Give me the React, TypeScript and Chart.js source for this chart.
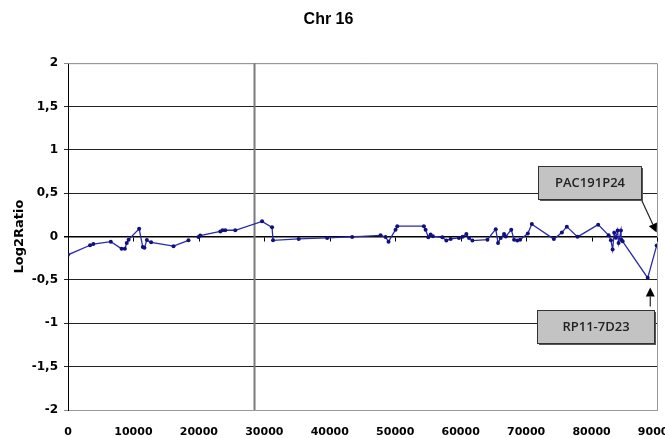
import React, { useEffect, useRef } from 'react';
import { Chart, registerables } from 'chart.js';

Chart.register(...registerables);

const chartTitle = 'Chr 16';
const yAxisTitle = 'Log2Ratio';

// Clone positions along chromosome 16 (units as in the source chart)
const positions: number[] = [
  0, 3370, 3870, 6540, 8190, 8690, 8980, 9260, 10870, 11430,
  11680, 12050, 12700, 16120, 18410, 19200, 19940, 20200, 23270, 23620,
  24030, 25560, 29650, 31180, 31330, 35250, 39600, 43420, 47760, 48520,
  48980, 50050, 50310, 54380, 54640, 55060, 55410, 55760, 57200, 57810,
  58470, 59740, 60300, 60870, 61270, 61790, 64090, 65360, 65710, 66120,
  66630, 66890, 67730, 68160, 68650, 69080, 70260, 70870, 74240, 75460,
  76220, 77860, 81010, 82610, 82960, 83220, 83460, 83720, 83980, 84130,
  84490, 84550, 84750, 88580, 89950,
];

const log2Ratios: (number | null)[] = [
  -0.21, -0.1, -0.086, -0.058, -0.14, -0.14, -0.073, -0.035, 0.09, -0.12,
  -0.13, -0.04, -0.066, -0.11, -0.043, null, -0.006, 0.012, 0.06, 0.073,
  0.073, 0.073, 0.176, 0.107, -0.043, -0.027, -0.015, -0.004, 0.015, -0.006,
  -0.058, 0.08, 0.12, 0.12, 0.08, -0.008, 0.023, 0.003, -0.008, -0.046,
  -0.027, -0.015, -0.003, 0.03, -0.015, -0.046, -0.035, 0.086, -0.073, -0.015,
  0.029, 0.0, 0.08, -0.035, -0.046, -0.035, 0.035, 0.144, -0.029, 0.046,
  0.115, -0.003, 0.138, 0.015, -0.043, -0.15, 0.043, -0.012, 0.069, -0.073,
  0.069, -0.035, -0.054, -0.476, -0.104,
];

const xTickValues = [0, 10000, 20000, 30000, 40000, 50000, 60000, 70000, 80000, 90000];
const yTickValues = [-2, -1.5, -1, -0.5, 0, 0.5, 1, 1.5, 2];
const centromerePosition = 28500;

const calloutLabels = ['PAC191P24', 'RP11-7D23'];
// anchors in data coordinates: box centre, arrow tail, arrow tip
const calloutBoxX = [79740, 80660];
const calloutBoxY = [0.62, -1.037];
const calloutTailX = [87550, 88970];
const calloutTailY = [0.437, -0.806];
const calloutTipX = [89950, 88970];
const calloutTipY = [0.046, -0.588];
const calloutBoxWidths = [103, 117];

const TICK_FONT = "'DejaVu Sans', sans-serif";

const decorPlugin = {
  id: 'decor',
  beforeDatasetsDraw(chart: any) {
    const { ctx, chartArea } = chart;
    const xs = chart.scales.x;
    const ys = chart.scales.y;
    ctx.save();
    ctx.strokeStyle = '#9a9a9a';
    ctx.lineWidth = 1;
    ctx.beginPath();
    ctx.moveTo(chartArea.left, chartArea.top + 0.5);
    ctx.lineTo(chartArea.right + 0.5, chartArea.top + 0.5);
    ctx.lineTo(chartArea.right + 0.5, chartArea.bottom);
    ctx.stroke();
    const cx = xs.getPixelForValue(centromerePosition);
    ctx.strokeStyle = '#7a7a7a';
    ctx.lineWidth = 2;
    ctx.beginPath();
    ctx.moveTo(cx, chartArea.top);
    ctx.lineTo(cx, chartArea.bottom);
    ctx.stroke();
    const y0 = Math.round(ys.getPixelForValue(0)) + 0.5;
    ctx.strokeStyle = '#000';
    ctx.lineWidth = 1;
    ctx.beginPath();
    for (const v of xTickValues) {
      if (v === 0) continue;
      const px = Math.round(xs.getPixelForValue(v)) + 0.5;
      ctx.moveTo(px, y0);
      ctx.lineTo(px, y0 + 4);
    }
    ctx.stroke();
    ctx.restore();
  },
  afterDatasetsDraw(chart: any) {
    const { ctx } = chart;
    const xs = chart.scales.x;
    const ys = chart.scales.y;
    ctx.save();
    ctx.font = "600 13px 'Open Sans', sans-serif";
    calloutLabels.forEach((label, i) => {
      const bx = xs.getPixelForValue(calloutBoxX[i]);
      const by = ys.getPixelForValue(calloutBoxY[i]);
      const w = calloutBoxWidths[i];
      const h = 33;
      const left = Math.round(bx - w / 2) + 0.5;
      const top = Math.round(by - h / 2) + 0.5;
      const tx = xs.getPixelForValue(calloutTailX[i]);
      const ty = ys.getPixelForValue(calloutTailY[i]);
      const hx = xs.getPixelForValue(calloutTipX[i]);
      const hy = ys.getPixelForValue(calloutTipY[i]);
      const ang = Math.atan2(hy - ty, hx - tx);
      const al = 9, aw = 4.5;
      ctx.strokeStyle = '#222';
      ctx.lineWidth = 1.2;
      ctx.beginPath();
      ctx.moveTo(tx, ty);
      ctx.lineTo(hx - Math.cos(ang) * al, hy - Math.sin(ang) * al);
      ctx.stroke();
      ctx.fillStyle = '#000';
      ctx.beginPath();
      ctx.moveTo(hx, hy);
      ctx.lineTo(hx - Math.cos(ang) * al - Math.sin(ang) * aw, hy - Math.sin(ang) * al + Math.cos(ang) * aw);
      ctx.lineTo(hx - Math.cos(ang) * al + Math.sin(ang) * aw, hy - Math.sin(ang) * al - Math.cos(ang) * aw);
      ctx.closePath();
      ctx.fill();
      ctx.fillStyle = '#555';
      ctx.fillRect(left + 1.5, top + 1.5, w, h);
      ctx.fillStyle = '#c3c3c3';
      ctx.fillRect(left, top, w, h);
      ctx.strokeStyle = '#333';
      ctx.lineWidth = 1;
      ctx.strokeRect(left, top, w, h);
      ctx.fillStyle = '#222';
      ctx.textAlign = 'center';
      ctx.textBaseline = 'middle';
      ctx.fillText(label, left + w / 2, top + h / 2 + 0.5);
    });
    ctx.restore();
  },
};

export default function App() {
  const canvasRef = useRef<HTMLCanvasElement | null>(null);

  useEffect(() => {
    if (!canvasRef.current) return;
    const data = positions.map((x, i) => ({ x, y: log2Ratios[i] }));
    const chart = new Chart(canvasRef.current, {
      type: 'line',
      data: {
        datasets: [
          {
            data: data as any,
            borderColor: '#2a2aac',
            borderWidth: 1.3,
            pointRadius: 2,
            pointBackgroundColor: '#10107f',
            pointBorderWidth: 0,
            pointHoverRadius: 2,
            spanGaps: false,
            tension: 0,
          },
        ],
      },
      options: {
        animation: false,
        responsive: false,
        events: [],
        layout: { padding: { left: 0, right: 8, top: 0, bottom: 0 } },
        plugins: {
          legend: { display: false },
          tooltip: { enabled: false },
          title: {
            display: true,
            text: chartTitle,
            color: '#000',
            font: { family: "'Liberation Sans', Arial, sans-serif", weight: 'bold', size: 16 },
            padding: { top: 10, bottom: 34 },
          },
        },
        scales: {
          x: {
            type: 'linear',
            min: 0,
            max: 90000,
            afterBuildTicks: (scale: any) => {
              scale.ticks = xTickValues.map((v) => ({ value: v }));
            },
            ticks: {
              autoSkip: false,
              maxRotation: 0,
              color: '#000',
              padding: 8,
              font: { family: TICK_FONT, weight: 'bold', size: 11 },
              callback: (v: any) => String(v),
            },
            grid: { display: false },
            border: { display: true, color: '#9a9a9a' },
            afterFit: (scale: any) => {
              scale.height = 28;
              scale.paddingLeft = 0;
              scale.paddingRight = 0;
            },
          },
          y: {
            min: -2,
            max: 2,
            afterBuildTicks: (scale: any) => {
              scale.ticks = yTickValues.map((v) => ({ value: v }));
            },
            ticks: {
              color: '#000',
              padding: 6,
              font: { family: TICK_FONT, weight: 'bold', size: 12 },
              callback: (v: any) => String(v).replace('.', ','),
            },
            grid: {
              drawTicks: true,
              tickLength: 4,
              lineWidth: (c: any) => (c.tick && c.tick.value === 0 ? 1.5 : 1),
              color: (c: any) => {
                const v = c.tick ? c.tick.value : 0;
                if (v === 0) return '#000';
                if (Math.abs(v) === 2) return '#8a8a8a';
                return '#222';
              },
            },
            border: { display: true, color: '#000', width: 1 },
            title: {
              display: true,
              text: yAxisTitle,
              color: '#000',
              font: { family: TICK_FONT, weight: 'bold', size: 13 },
              padding: { top: 12, bottom: 0 },
            },
            afterFit: (scale: any) => {
              scale.width = 68;
            },
          },
        },
      },
      plugins: [decorPlugin],
    });
    return () => chart.destroy();
  }, []);

  return (
    <div style={{ position: 'fixed', left: 0, top: 0, width: 665, height: 438, background: '#fff' }}>
      <canvas ref={canvasRef} width={665} height={438} style={{ display: 'block' }} />
    </div>
  );
}
